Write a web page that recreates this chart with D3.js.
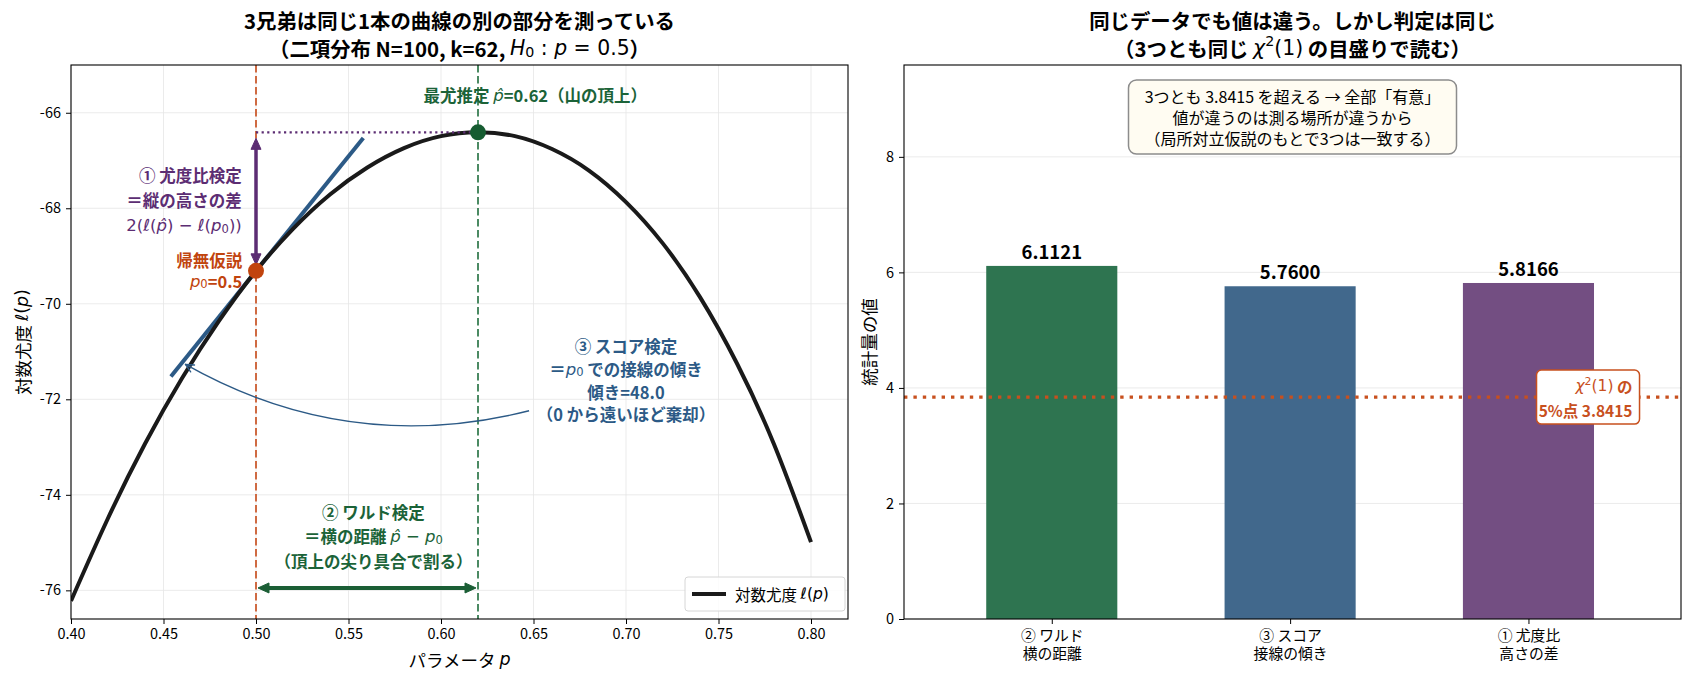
<!DOCTYPE html>
<html>
<head>
<meta charset="utf-8">
<script src="https://cdn.jsdelivr.net/npm/d3@7"></script>
<style>
  body { margin: 0; background: #fff; }
  svg { display: block; }
  text { white-space: pre; }
</style>
</head>
<body>
<svg id="chart" width="1690" height="681"></svg>
<script>
(function () {
  'use strict';

  // ── Data: left panel (binomial log-likelihood, N=100, k=62) ─────────────
  const P_GRID = [0.40, 0.42, 0.44, 0.46, 0.48, 0.50, 0.52, 0.54, 0.56, 0.58, 0.60,
                  0.62, 0.64, 0.66, 0.68, 0.70, 0.72, 0.74, 0.76, 0.78, 0.80];
  const LOGLIK = [-76.22, -74.49, -72.93, -71.56, -70.36, -69.31, -68.43, -67.71, -67.15, -66.74, -66.49,
                  -66.41, -66.49, -66.76, -67.21, -67.87, -68.74, -69.86, -71.25, -72.94, -74.99];
  const P0 = 0.5;
  const P_HAT = 0.62;
  const L_P0 = -69.31;
  const L_PHAT = -66.41;
  const TANGENT_P = [0.454, 0.558];
  const TANGENT_L = [-71.52, -66.53];
  const WALD_ARROW_L = -75.95;
  const LEFT_X_TICKS = [0.40, 0.45, 0.50, 0.55, 0.60, 0.65, 0.70, 0.75, 0.80];
  const LEFT_Y_TICKS = [-76, -74, -72, -70, -68, -66];

  // ── Data: right panel (test statistics) ─────────────────────────────────
  const TEST_NAMES = ['② ワルド', '③ スコア', '① 尤度比'];
  const TEST_SUBS = ['横の距離', '接線の傾き', '高さの差'];
  const TEST_VALUES = [6.1121, 5.7600, 5.8166];
  const CRITICAL = 3.8415;
  const RIGHT_Y_TICKS = [0, 2, 4, 6, 8];

  const BAR_COLORS = ['#2e7450', '#41688c', '#734e82'];
  const CJK = '"Noto Sans CJK JP", "Noto Sans", sans-serif';
  const MATH = '"DejaVu Sans", sans-serif';
  const C_PURPLE = '#5c2d73', C_ORANGE = '#c1440e', C_GREEN = '#1b6338', C_BLUE = '#2c5a86';
  const ANN = 16.5;

  const svg = d3.select('#chart');

  // mixed text: plain strings use the CJK font, [s, kind] pieces use the math font
  function rich(parent, x, y, parts, o) {
    const t = parent.append('text')
      .attr('x', x).attr('y', y)
      .attr('text-anchor', o.anchor || 'middle')
      .attr('dominant-baseline', 'central')
      .attr('font-size', o.size)
      .attr('font-family', CJK)
      .attr('font-weight', o.weight || 'normal')
      .attr('fill', o.color || '#000');
    if (o.rotate) t.attr('transform', `rotate(${o.rotate},${x},${y})`);
    let shift = 0;
    parts.forEach(p => {
      const [s, kind] = typeof p === 'string' ? [p, ''] : p;
      const ts = t.append('tspan').text(s);
      let target = 0;
      if (kind) ts.attr('font-family', MATH).attr('font-weight', 'normal');
      if (kind === 'i') ts.attr('font-style', 'italic');
      if (kind === 'sub') { ts.attr('font-size', o.size * 0.7); target = o.size * 0.22; }
      if (kind === 'sup') { ts.attr('font-size', o.size * 0.7); target = -o.size * 0.36; }
      if (target !== shift) { ts.attr('dy', target - shift); shift = target; }
    });
    return t;
  }

  function doubleArrow(g, x1, y1, x2, y2, color, lw, hl, hw, shrink) {
    const dx = x2 - x1, dy = y2 - y1, len = Math.hypot(dx, dy);
    const ux = dx / len, uy = dy / len;
    const ax = x1 + ux * shrink, ay = y1 + uy * shrink;
    const bx = x2 - ux * shrink, by = y2 - uy * shrink;
    g.append('line')
      .attr('x1', ax + ux * hl * 0.7).attr('y1', ay + uy * hl * 0.7)
      .attr('x2', bx - ux * hl * 0.7).attr('y2', by - uy * hl * 0.7)
      .attr('stroke', color).attr('stroke-width', lw);
    const head = (tx, ty, dirx, diry) => {
      const hx = tx - dirx * hl, hy = ty - diry * hl, px = -diry, py = dirx;
      g.append('path')
        .attr('d', `M${tx},${ty}L${hx + px * hw / 2},${hy + py * hw / 2}L${hx - px * hw / 2},${hy - py * hw / 2}Z`)
        .attr('fill', color).attr('stroke', color).attr('stroke-width', 1).attr('stroke-linejoin', 'round');
    };
    head(bx, by, ux, uy);
    head(ax, ay, -ux, -uy);
  }

  function styleAxis(ax) {
    ax.select('.domain').remove();
    ax.selectAll('.tick line').attr('stroke', '#000').attr('stroke-width', 1);
    ax.selectAll('.tick text').attr('font-family', CJK).attr('font-size', 14.5).attr('fill', '#000');
  }

  // ── Left panel ───────────────────────────────────────────────────────────
  const L = { x0: 71, x1: 848, y0: 65, y1: 619 };
  const xL = d3.scaleLinear().domain([0.4, 0.82]).range([L.x0, L.x1]);
  const yL = d3.scaleLinear().domain([-76.6, -65.0]).range([L.y1, L.y0]);
  const gl = svg.append('g');

  svg.append('clipPath').attr('id', 'clipL').append('rect')
    .attr('x', L.x0).attr('y', L.y0).attr('width', L.x1 - L.x0).attr('height', L.y1 - L.y0);

  // Grid
  gl.append('g').selectAll('line').data(LEFT_X_TICKS).enter().append('line')
    .attr('x1', d => xL(d)).attr('x2', d => xL(d)).attr('y1', L.y0).attr('y2', L.y1)
    .attr('stroke', '#e6e6e6').attr('stroke-width', 0.8);
  gl.append('g').selectAll('line').data(LEFT_Y_TICKS).enter().append('line')
    .attr('x1', L.x0).attr('x2', L.x1).attr('y1', d => yL(d)).attr('y2', d => yL(d))
    .attr('stroke', '#e6e6e6').attr('stroke-width', 0.8);

  const plotL = gl.append('g').attr('clip-path', 'url(#clipL)');

  // reference lines at p0 and p-hat
  plotL.append('line')
    .attr('x1', xL(P0)).attr('x2', xL(P0)).attr('y1', L.y0).attr('y2', L.y1)
    .attr('stroke', '#cf6a42').attr('stroke-width', 2).attr('stroke-dasharray', '7.5,3.5');
  plotL.append('line')
    .attr('x1', xL(P_HAT)).attr('x2', xL(P_HAT)).attr('y1', L.y0).attr('y2', L.y1)
    .attr('stroke', '#4b8a63').attr('stroke-width', 2).attr('stroke-dasharray', '7.5,3.5');

  // tangent at p0
  plotL.append('path')
    .datum(TANGENT_P.map((p, i) => [p, TANGENT_L[i]]))
    .attr('fill', 'none').attr('stroke', C_BLUE).attr('stroke-width', 4)
    .attr('d', d3.line().x(d => xL(d[0])).y(d => yL(d[1])));

  // log-likelihood curve
  plotL.append('path')
    .datum(P_GRID.map((p, i) => [p, LOGLIK[i]]))
    .attr('fill', 'none').attr('stroke', '#1a1a1a').attr('stroke-width', 4)
    .attr('d', d3.line().x(d => xL(d[0])).y(d => yL(d[1])).curve(d3.curveNatural));

  // horizontal dotted at the maximum
  plotL.append('line')
    .attr('x1', xL(P0)).attr('x2', xL(P_HAT)).attr('y1', yL(L_PHAT)).attr('y2', yL(L_PHAT))
    .attr('stroke', C_PURPLE).attr('stroke-width', 2.2).attr('stroke-dasharray', '2.2,3.4');

  // ① vertical arrow (likelihood ratio)
  doubleArrow(plotL, xL(P0), yL(L_P0), xL(P0), yL(L_PHAT), C_PURPLE, 3.5, 11, 10, 6);

  // ② horizontal arrow (Wald)
  doubleArrow(plotL, xL(P0), yL(WALD_ARROW_L), xL(P_HAT), yL(WALD_ARROW_L), '#1b5e35', 4, 11, 10, 2);

  // ③ curved arrow (score)
  (function () {
    const sx = xL(0.6476), sy = yL(-72.24), ex = xL(0.4619), ey = yL(-71.27);
    const mx = (sx + ex) / 2, my = (sy + ey) / 2, dx = ex - sx, dy = ey - sy;
    const cx = mx + 0.2 * dy, cy = my - 0.2 * dx;
    plotL.append('path')
      .attr('d', `M${sx},${sy}Q${cx},${cy} ${ex},${ey}`)
      .attr('fill', 'none').attr('stroke', C_BLUE).attr('stroke-width', 1.4);
    const len = Math.hypot(ex - cx, ey - cy), ux = (ex - cx) / len, uy = (ey - cy) / len;
    const a = 0.45, hl = 9;
    [a, -a].forEach(s => {
      const rx = ux * Math.cos(s) - uy * Math.sin(s), ry = ux * Math.sin(s) + uy * Math.cos(s);
      plotL.append('line').attr('x1', ex).attr('y1', ey)
        .attr('x2', ex - rx * hl).attr('y2', ey - ry * hl)
        .attr('stroke', C_BLUE).attr('stroke-width', 1.4).attr('stroke-linecap', 'round');
    });
  })();

  // points
  plotL.append('circle').attr('cx', xL(P0)).attr('cy', yL(L_P0)).attr('r', 8).attr('fill', C_ORANGE);
  plotL.append('circle').attr('cx', xL(P_HAT)).attr('cy', yL(L_PHAT)).attr('r', 8).attr('fill', '#165c31');

  // annotations
  rich(gl, xL(0.651), yL(-65.63), ['最尤推定 ', ['p\u0302', 'i'], '=0.62（山の頂上）'],
    { size: ANN, weight: 'bold', color: C_GREEN });

  rich(gl, xL(0.4923), yL(-67.31), ['① 尤度比検定'], { size: ANN, weight: 'bold', color: C_PURPLE, anchor: 'end' });
  rich(gl, xL(0.4923), yL(-67.83), ['＝縦の高さの差'], { size: ANN, weight: 'bold', color: C_PURPLE, anchor: 'end' });
  rich(gl, xL(0.4923), yL(-68.35),
    [['2(ℓ(', 'm'], ['p\u0302', 'i'], [') − ℓ(', 'm'], ['p', 'i'], ['0', 'sub'], ['))', 'm']],
    { size: ANN, color: C_PURPLE, anchor: 'end' });

  rich(gl, xL(0.4926), yL(-69.08), ['帰無仮説'], { size: ANN, weight: 'bold', color: C_ORANGE, anchor: 'end' });
  rich(gl, xL(0.4926), yL(-69.52), [['p', 'i'], ['0', 'sub'], '=0.5'], { size: ANN, weight: 'bold', color: C_ORANGE, anchor: 'end' });

  rich(gl, xL(0.700), yL(-70.89), ['③ スコア検定'], { size: ANN, weight: 'bold', color: C_BLUE });
  rich(gl, xL(0.700), yL(-71.36), ['＝', ['p', 'i'], ['0', 'sub'], ' での接線の傾き'], { size: ANN, weight: 'bold', color: C_BLUE });
  rich(gl, xL(0.700), yL(-71.84), ['傾き=48.0'], { size: ANN, weight: 'bold', color: C_BLUE });
  rich(gl, xL(0.700), yL(-72.31), ['（0 から遠いほど棄却）'], { size: ANN, weight: 'bold', color: C_BLUE });

  rich(gl, xL(0.5635), yL(-74.37), ['② ワルド検定'], { size: ANN, weight: 'bold', color: C_GREEN });
  rich(gl, xL(0.5635), yL(-74.86), ['＝横の距離 ', ['p\u0302', 'i'], [' − ', 'm'], ['p', 'i'], ['0', 'sub']], { size: ANN, weight: 'bold', color: C_GREEN });
  rich(gl, xL(0.5635), yL(-75.38), ['（頂上の尖り具合で割る）'], { size: ANN, weight: 'bold', color: C_GREEN });

  // legend
  const lg = gl.append('g');
  const lgW = 160, lgH = 34, lgX = L.x1 - 3 - lgW, lgY = L.y1 - 8 - lgH;
  lg.append('rect').attr('x', lgX).attr('y', lgY).attr('width', lgW).attr('height', lgH)
    .attr('rx', 3).attr('fill', 'rgba(255,255,255,0.85)').attr('stroke', '#d6d6d6').attr('stroke-width', 1);
  lg.append('line').attr('x1', lgX + 7).attr('x2', lgX + 41).attr('y1', lgY + lgH / 2).attr('y2', lgY + lgH / 2)
    .attr('stroke', '#1a1a1a').attr('stroke-width', 4);
  rich(lg, lgX + 50, lgY + lgH / 2, ['対数尤度 ', ['ℓ(', 'm'], ['p', 'i'], [')', 'm']], { size: 15.5, anchor: 'start' });

  // axes
  gl.append('g').attr('transform', `translate(0,${L.y1})`)
    .call(d3.axisBottom(xL).tickValues(LEFT_X_TICKS).tickFormat(d3.format('.2f')).tickSize(5).tickPadding(5))
    .call(styleAxis);
  gl.append('g').attr('transform', `translate(${L.x0},0)`)
    .call(d3.axisLeft(yL).tickValues(LEFT_Y_TICKS).tickFormat(d => String(d)).tickSize(5).tickPadding(5))
    .call(styleAxis);
  gl.append('rect').attr('x', L.x0).attr('y', L.y0).attr('width', L.x1 - L.x0).attr('height', L.y1 - L.y0)
    .attr('fill', 'none').attr('stroke', '#000').attr('stroke-width', 1.1);

  rich(gl, (L.x0 + L.x1) / 2, 659, ['パラメータ ', ['p', 'i']], { size: 17.5 });
  rich(gl, 22, (L.y0 + L.y1) / 2, ['対数尤度 ', ['ℓ(', 'm'], ['p', 'i'], [')', 'm']], { size: 17.5, rotate: -90 });

  rich(gl, (L.x0 + L.x1) / 2, 20, ['3兄弟は同じ1本の曲線の別の部分を測っている'], { size: 20.4, weight: 'bold' });
  rich(gl, (L.x0 + L.x1) / 2, 48,
    ['（二項分布 N=100, k=62, ', ['H', 'i'], ['0', 'sub'], [' : ', 'm'], ['p', 'i'], [' = 0.5', 'm'], '）'],
    { size: 20.4, weight: 'bold' });

  // ── Right panel ──────────────────────────────────────────────────────────
  const R = { x0: 904, x1: 1681, y0: 65, y1: 619 };
  const xR = d3.scaleLinear().domain([-0.62, 2.64]).range([R.x0, R.x1]);
  const yR = d3.scaleLinear().domain([0, 9.59]).range([R.y1, R.y0]);
  const gr = svg.append('g');
  const BAR_W = 0.55;

  gr.append('g').selectAll('line').data(RIGHT_Y_TICKS).enter().append('line')
    .attr('x1', R.x0).attr('x2', R.x1).attr('y1', d => yR(d)).attr('y2', d => yR(d))
    .attr('stroke', '#e6e6e6').attr('stroke-width', 0.8);

  gr.selectAll('.bar').data(TEST_VALUES).enter().append('rect')
    .attr('class', 'bar')
    .attr('x', (d, i) => xR(i - BAR_W / 2))
    .attr('width', (d, i) => xR(i + BAR_W / 2) - xR(i - BAR_W / 2))
    .attr('y', d => yR(d))
    .attr('height', d => yR(0) - yR(d))
    .attr('fill', (d, i) => BAR_COLORS[i]);

  gr.selectAll('.bar-label').data(TEST_VALUES).enter().append('text')
    .attr('class', 'bar-label')
    .attr('x', (d, i) => xR(i))
    .attr('y', d => yR(d) - 7)
    .attr('text-anchor', 'middle')
    .attr('font-family', CJK).attr('font-size', 18.5).attr('font-weight', 'bold')
    .text(d => d.toFixed(4));

  // critical value line
  gr.append('line')
    .attr('x1', R.x0).attr('x2', R.x1).attr('y1', yR(CRITICAL)).attr('y2', yR(CRITICAL))
    .attr('stroke', '#c8501e').attr('stroke-width', 3.4).attr('stroke-dasharray', '3.4,6');

  // critical label box
  const cbX2 = xR(2.466), cbW = 103, cbH = 54, cbY = yR(CRITICAL) - cbH / 2;
  gr.append('rect').attr('x', cbX2 - cbW).attr('y', cbY).attr('width', cbW).attr('height', cbH)
    .attr('rx', 5).attr('fill', '#fff').attr('stroke', '#c8501e').attr('stroke-width', 1.5);
  rich(gr, cbX2 - 7, cbY + 16, [['χ', 'i'], ['2', 'sup'], ['(1)', 'm'], ' の'],
    { size: 15.5, weight: 'bold', color: '#c8501e', anchor: 'end' });
  rich(gr, cbX2 - 7, cbY + 40, ['5%点 3.8415'], { size: 15.5, weight: 'bold', color: '#c8501e', anchor: 'end' });

  // info box
  const ibW = 328, ibH = 74, ibX = (R.x0 + R.x1) / 2 - ibW / 2, ibY = 80;
  gr.append('rect').attr('x', ibX).attr('y', ibY).attr('width', ibW).attr('height', ibH)
    .attr('rx', 8).attr('fill', '#fffcf2').attr('stroke', '#8c8c8c').attr('stroke-width', 1.5);
  rich(gr, (R.x0 + R.x1) / 2, ibY + 16, ['3つとも 3.8415 を超える → 全部「有意」'], { size: 16 });
  rich(gr, (R.x0 + R.x1) / 2, ibY + 37, ['値が違うのは測る場所が違うから'], { size: 16 });
  rich(gr, (R.x0 + R.x1) / 2, ibY + 58, ['（局所対立仮説のもとで3つは一致する）'], { size: 16 });

  // axes
  const axR = gr.append('g').attr('transform', `translate(0,${R.y1})`)
    .call(d3.axisBottom(xR).tickValues([0, 1, 2]).tickFormat('').tickSize(5))
    .call(styleAxis);
  axR.selectAll('.tick').each(function (d) {
    const tk = d3.select(this);
    rich(tk, 0, 15, [TEST_NAMES[d]], { size: 14.8 });
    rich(tk, 0, 33, [TEST_SUBS[d]], { size: 14.8 });
  });
  gr.append('g').attr('transform', `translate(${R.x0},0)`)
    .call(d3.axisLeft(yR).tickValues(RIGHT_Y_TICKS).tickFormat(d => String(d)).tickSize(5).tickPadding(5))
    .call(styleAxis);
  gr.append('rect').attr('x', R.x0).attr('y', R.y0).attr('width', R.x1 - R.x0).attr('height', R.y1 - R.y0)
    .attr('fill', 'none').attr('stroke', '#000').attr('stroke-width', 1.1);

  rich(gr, 868, (R.y0 + R.y1) / 2, ['統計量の値'], { size: 17.5, rotate: -90 });

  rich(gr, (R.x0 + R.x1) / 2, 20, ['同じデータでも値は違う。しかし判定は同じ'], { size: 20.4, weight: 'bold' });
  rich(gr, (R.x0 + R.x1) / 2, 48,
    ['（3つとも同じ ', ['χ', 'i'], ['2', 'sup'], ['(1)', 'm'], ' の目盛りで読む）'],
    { size: 20.4, weight: 'bold' });
})();
</script>
</body>
</html>
